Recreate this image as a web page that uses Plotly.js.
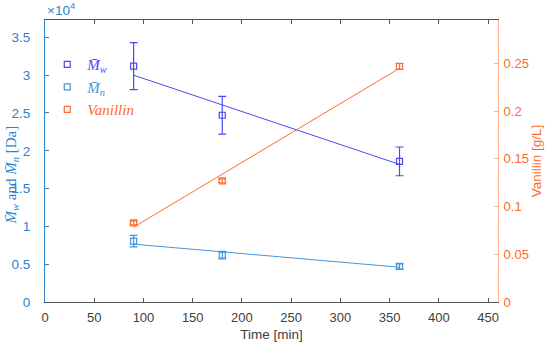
<!DOCTYPE html>
<html><head><meta charset="utf-8">
<script src="https://cdn.plot.ly/plotly-3.0.1.min.js"></script>
<style>body{margin:0;padding:0;background:#fff}#chart{width:550px;height:345px}</style>
</head><body><div id="chart"></div>
<script>
// Data
var time = [90, 180, 360];
var mw = [31200, 24700, 18600];
var mwErr = [3100, 2500, 1900];
var mn = [8050, 6200, 4700];
var mnErr = [750, 500, 350];
var vanillin = [0.083, 0.127, 0.247];
var vanillinErr = [0.002, 0.002, 0.003];
// fitted trend lines (endpoints)
var fitTime = [90, 360];
var mwFit = [30000, 18200];
var mnFit = [7650, 4600];
var vanFit = [0.0785, 0.2450];
// tick labels
var xTicks = [0, 50, 100, 150, 200, 250, 300, 350, 400, 450];
var yTickVals = [0, 5000, 10000, 15000, 20000, 25000, 30000, 35000];
var yTickText = ['0', '0.5', '1', '1.5', '2', '2.5', '3', '3.5'];
var y2Ticks = [0, 0.05, 0.1, 0.15, 0.2, 0.25];
var y2TickText = ['0', '0.05', '0.1', '0.15', '0.2', '0.25'];

var cMw = '#4a4af5', cMn = '#4396dc', cVan = '#ff6a2b';
var cLeft = '#2c83cc';
var serif = 'Liberation Serif, DejaVu Serif, serif';
var sans = 'Liberation Sans, Arial, sans-serif';

var traces = [
  {x: fitTime, y: mwFit, mode: 'lines', line: {color: cMw, width: 1}, showlegend: false, hoverinfo: 'skip'},
  {x: fitTime, y: mnFit, mode: 'lines', line: {color: cMn, width: 1}, showlegend: false, hoverinfo: 'skip'},
  {x: fitTime, y: vanFit, yaxis: 'y2', mode: 'lines', line: {color: cVan, width: 1}, showlegend: false, hoverinfo: 'skip'},
  {x: time, y: mw, mode: 'markers', name: '<span style="color:' + cMw + '"><i>M̄<sub>w</sub></i></span>',
   marker: {symbol: 'square-open', size: 6, color: cMw, line: {width: 1.2}},
   error_y: {type: 'data', array: mwErr, visible: true, color: cMw, thickness: 1.2, width: 4}},
  {x: time, y: mn, mode: 'markers', name: '<span style="color:' + cMn + '"><i>M̄<sub>n</sub></i></span>',
   marker: {symbol: 'square-open', size: 6, color: cMn, line: {width: 1.2}},
   error_y: {type: 'data', array: mnErr, visible: true, color: cMn, thickness: 1.2, width: 4}},
  {x: time, y: vanillin, yaxis: 'y2', mode: 'markers', name: '<span style="color:' + cVan + '"><i>Vanillin</i></span>',
   marker: {symbol: 'square-open', size: 6, color: cVan, line: {width: 1.2}},
   error_y: {type: 'data', array: vanillinErr, visible: true, color: cVan, thickness: 1.2, width: 4}}
];

var layout = {
  width: 550, height: 345,
  margin: {l: 45, r: 52, t: 20, b: 43},
  paper_bgcolor: '#fff', plot_bgcolor: '#fff',
  font: {family: sans, size: 13, color: '#404040'},
  showlegend: true,
  legend: {x: 0.005, y: 0.9, xanchor: 'left', yanchor: 'top', bgcolor: 'rgba(0,0,0,0)',
           font: {family: serif, size: 15}, itemwidth: 30, tracegroupgap: 0},
  xaxis: {range: [0, 460], tickvals: xTicks, ticks: 'inside', ticklen: 4, tickcolor: '#555',
          showline: true, linecolor: '#555', linewidth: 1, mirror: 'ticks', showgrid: false, zeroline: false,
          tickfont: {size: 13, color: '#404040'}, ticklabelstandoff: 3,
          title: {text: 'Time [min]', font: {size: 13.5, color: '#404040'}, standoff: 5}},
  yaxis: {range: [0, 37300], tickvals: yTickVals, ticktext: yTickText, ticks: 'inside', ticklen: 4,
          tickcolor: cLeft, showline: true, linecolor: cLeft, linewidth: 1, showgrid: false, zeroline: false,
          tickfont: {size: 13.5, color: cLeft}, ticklabelstandoff: 11},
  yaxis2: {range: [0, 0.2956], overlaying: 'y', side: 'right', tickvals: y2Ticks, ticktext: y2TickText,
           ticks: 'inside', ticklen: 4, tickcolor: '#ffb08c', showline: true, linecolor: '#ffb08c', linewidth: 1,
           showgrid: false, zeroline: false, tickfont: {size: 13, color: cVan}, ticklabelstandoff: 2,
           title: {text: 'Vanillin [g/L]', font: {size: 13.5, color: cVan}, standoff: 3}},
  annotations: [
    {xref: 'paper', yref: 'paper', x: 0, y: 1, xanchor: 'left', yanchor: 'bottom', yshift: 0, showarrow: false,
     text: '×10<sup>4</sup>', font: {size: 13.5, color: cLeft}},
    {xref: 'paper', yref: 'paper', x: -0.072, y: 0.45, xanchor: 'center', yanchor: 'middle', textangle: -90,
     showarrow: false, text: '<i>M̄<sub>w</sub></i> and <i>M̄<sub>n</sub></i> [Da]',
     font: {family: serif, size: 15, color: cLeft}}
  ]
};

Plotly.newPlot('chart', traces, layout, {displayModeBar: false, staticPlot: true});
</script>
</body></html>
